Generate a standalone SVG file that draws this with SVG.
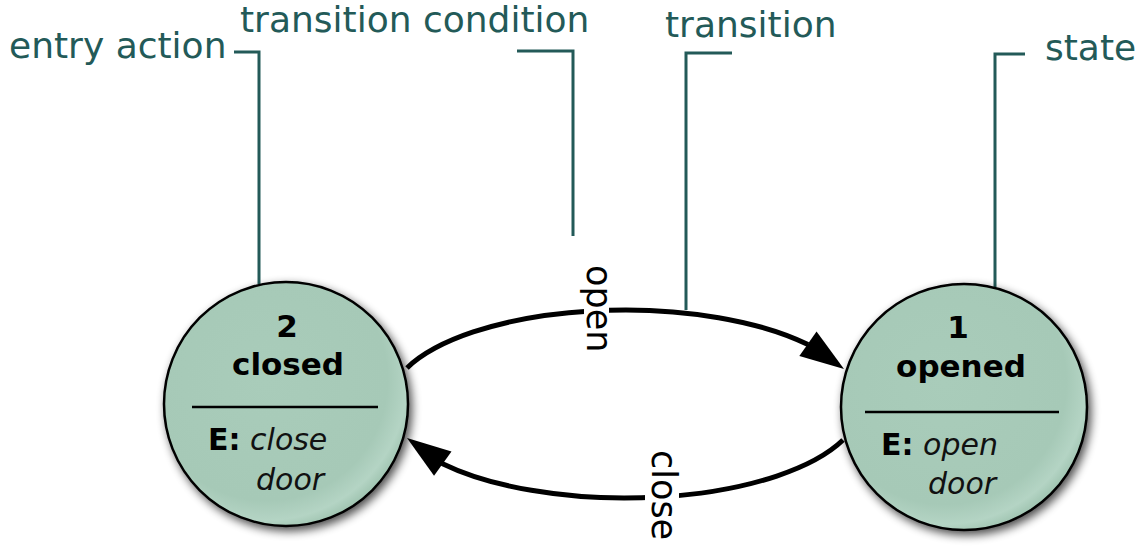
<svg xmlns="http://www.w3.org/2000/svg" width="1148" height="548" viewBox="0 0 1148 548">
  <style>
    .callout-text { font-family: "DejaVu Sans", "Liberation Sans", sans-serif; font-size: 36px; fill: #235a58; }
    .callout { fill: none; stroke: #235a58; stroke-width: 3; }
    .edge { fill: none; stroke: #000; stroke-width: 5; }
    .edge-label { font-family: "DejaVu Sans", "Liberation Sans", sans-serif; font-size: 35px; fill: #000; }
    .state-circle { fill: url(#stateFill); stroke: #000; stroke-width: 2.5; }
    .state-title { font-family: "DejaVu Sans", "Liberation Sans", sans-serif; font-size: 31px; font-weight: bold; fill: #000; text-anchor: middle; }
    .state-action { font-family: "DejaVu Sans", "Liberation Sans", sans-serif; font-size: 30px; fill: #000; }
    .state-action .key { font-weight: bold; }
    .state-action .val { font-style: italic; fill: #111; }
    .divider { stroke: #000; stroke-width: 2.5; }
  </style>
  <defs>
    <radialGradient id="stateFill" cx="0.42" cy="0.4" r="0.62">
      <stop offset="0" stop-color="#a9ccba"/>
      <stop offset="0.8" stop-color="#a6c9b7"/>
      <stop offset="0.93" stop-color="#b4d4c4"/>
      <stop offset="1" stop-color="#a2c6b3"/>
    </radialGradient>
    <filter id="shadow" x="-20%" y="-20%" width="140%" height="140%">
      <feGaussianBlur in="SourceAlpha" stdDeviation="5"/>
      <feOffset dx="3" dy="4" result="blur"/>
      <feComponentTransfer><feFuncA type="linear" slope="0.7"/></feComponentTransfer>
      <feMerge><feMergeNode/><feMergeNode in="SourceGraphic"/></feMerge>
    </filter>
    <path id="arrowhead" d="M 0 0 L -44 -15 L -44 15 Z" fill="#000"/>
  </defs>

  <g id="connectors">
    <path class="edge" d="M 407 368 A 236 94 0 0 1 808 344.6"/>
    <use href="#arrowhead" transform="translate(844 369) rotate(35)"/>
    <path class="edge" d="M 843 440 A 236 94 0 0 1 442 463.4"/>
    <use href="#arrowhead" transform="translate(407 438) rotate(215.6)"/>
    <rect x="584" y="264" width="25" height="90" fill="#fff"/>
    <text class="edge-label" transform="translate(587 265) rotate(90)">open</text>
    <rect x="645" y="450" width="34" height="98" fill="#fff"/>
    <text class="edge-label" transform="translate(652 450) rotate(90)">close</text>
  </g>

  <g id="callouts">
    <path class="callout" d="M 234 52 H 259 V 284"/>
    <path class="callout" d="M 517 51 H 573 V 236"/>
    <path class="callout" d="M 732 53 H 686 V 310"/>
    <path class="callout" d="M 1025 54 H 995 V 287"/>
  </g>

  <g id="label-entry-action"><text class="callout-text" x="9" y="58">entry action</text></g>
  <g id="label-transition-condition"><text class="callout-text" x="240" y="32">transition condition</text></g>
  <g id="label-transition"><text class="callout-text" x="665" y="37">transition</text></g>
  <g id="label-state"><text class="callout-text" x="1045" y="60">state</text></g>

  <g id="state-closed">
    <circle class="state-circle" cx="286" cy="404" r="122" filter="url(#shadow)"/>
    <text class="state-title" x="287" y="337">2</text>
    <text class="state-title" x="288" y="375">closed</text>
    <line class="divider" x1="192" y1="407" x2="378" y2="407"/>
    <text class="state-action" x="208" y="450"><tspan class="key">E:</tspan> <tspan class="val">close</tspan></text>
    <text class="state-action" x="256" y="490"><tspan class="val">door</tspan></text>
  </g>

  <g id="state-opened">
    <circle class="state-circle" cx="964" cy="407" r="123" filter="url(#shadow)"/>
    <text class="state-title" x="958" y="338">1</text>
    <text class="state-title" x="961" y="377">opened</text>
    <line class="divider" x1="865" y1="412" x2="1059" y2="412"/>
    <text class="state-action" x="881" y="455"><tspan class="key">E:</tspan> <tspan class="val">open</tspan></text>
    <text class="state-action" x="928" y="494"><tspan class="val">door</tspan></text>
  </g>
</svg>
